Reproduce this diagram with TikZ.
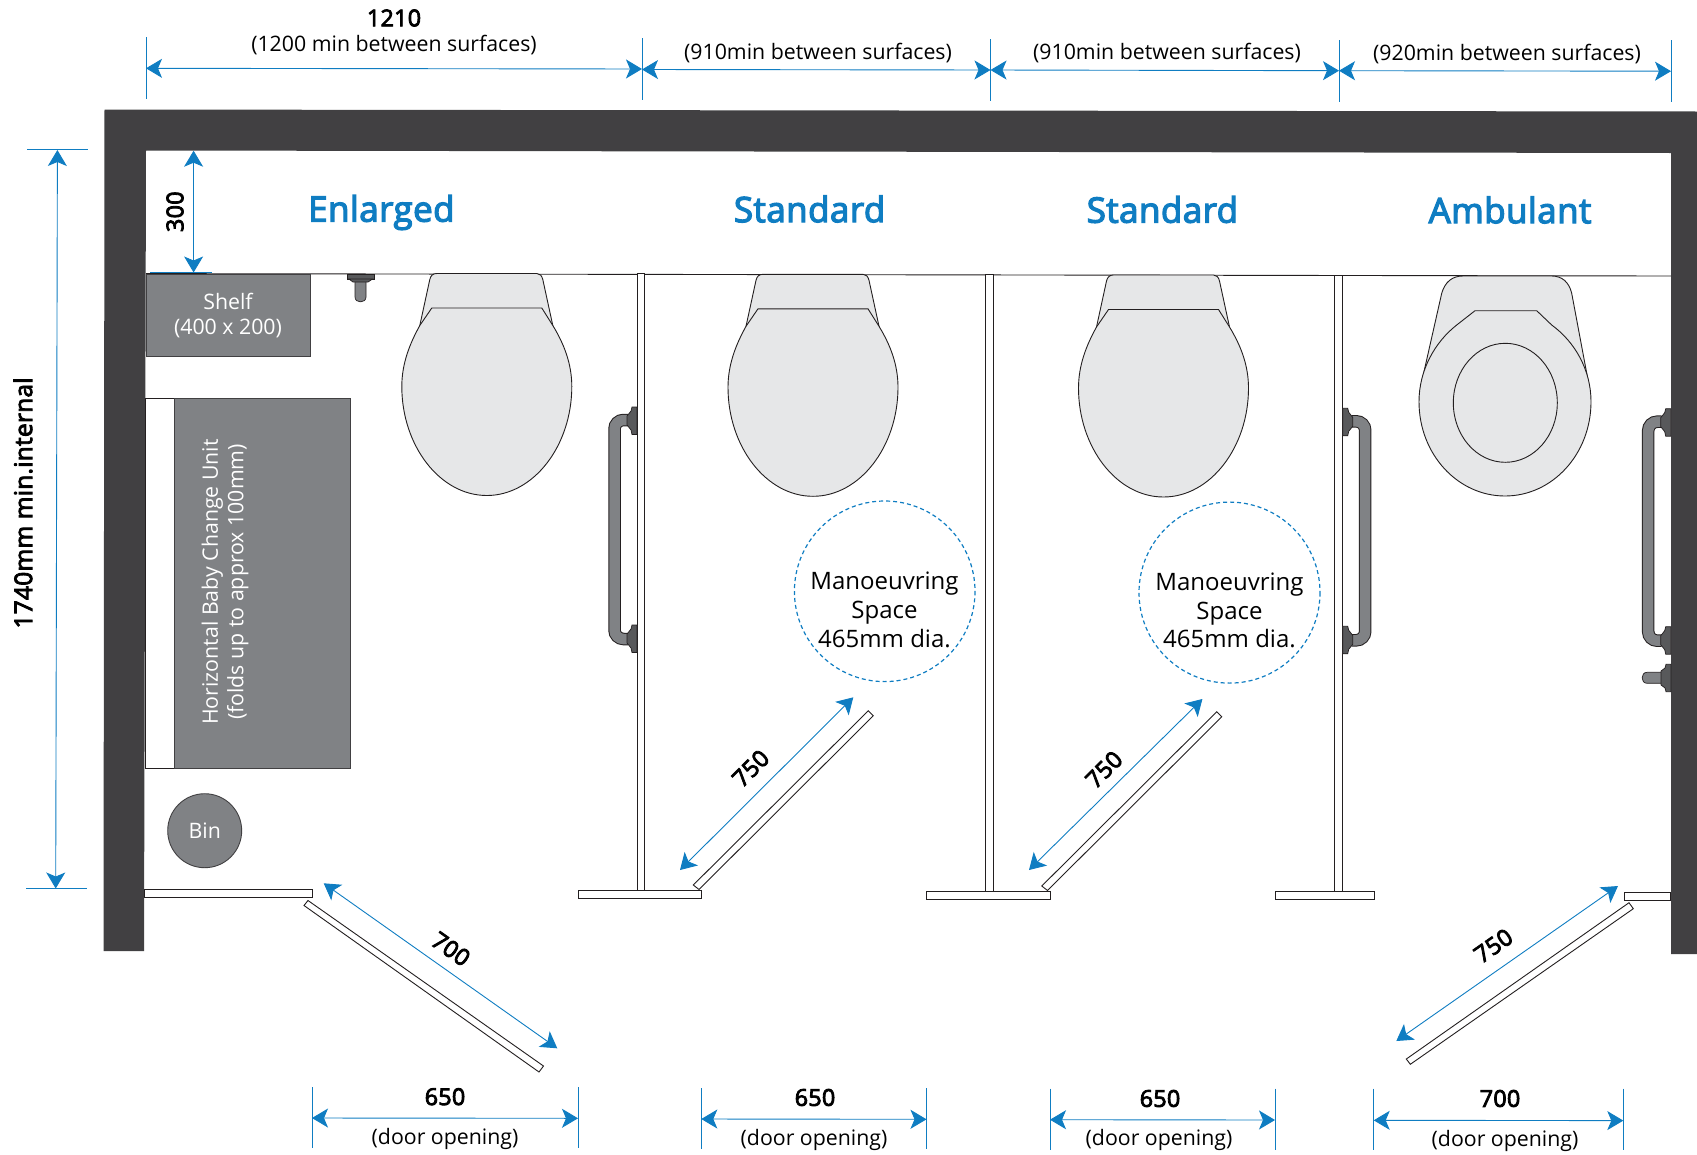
\documentclass[tikz,border=0pt]{standalone}
\usepackage{fontspec}
\setmainfont{Open Sans}
\newfontfamily\semi[FakeBold=3.5,LetterSpace=1.2]{Open Sans}
\usetikzlibrary{arrows.meta}
\definecolor{wallc}{HTML}{414042}
\definecolor{grayc}{HTML}{808285}
\definecolor{lightc}{HTML}{E6E7E8}
\definecolor{bluec}{HTML}{0F7DC2}
\definecolor{linec}{HTML}{231F20}
\definecolor{plate}{HTML}{58595B}
\tikzset{
  dimline/.style={bluec,line width=0.9pt,{Stealth[length=16pt,width=19pt,inset=4pt]}-{Stealth[length=16pt,width=19pt,inset=4pt]}},
  ticker/.style={bluec,line width=0.9pt},
  outl/.style={draw=linec,line width=0.9pt},
  panelbox/.style={outl,fill=white},
  greybox/.style={draw=wallc,line width=0.9pt,fill=grayc},
  panbox/.style={outl,fill=lightc},
  captxt/.style={font=\fontsize{21.3}{25.5}\selectfont,align=center,inner sep=0},
  numtxt/.style={font=\semi\fontsize{23.3}{26}\selectfont,inner sep=0},
  whitetxt/.style={captxt,text=white},
  titletxt/.style={font=\semi\fontsize{35}{40}\selectfont,text=bluec,inner sep=0},
  spacetxt/.style={inner sep=0,font=\fontsize{24}{28.7}\selectfont,align=center},
  mcirc/.style={bluec,line width=1.2pt,dash pattern=on 4pt off 3pt},
}
\newcommand\toilet[2]{\begin{scope}[shift={(#1,#2)}]
  \draw[panbox] (-67,52) -- (-57,6) .. controls (-56,2) and (-54,0) .. (-50,0) -- (50,0) .. controls (53,0) and (55,2) .. (56,6) -- (66,52) -- cycle;
  \draw[panbox] (-55,34.5) -- (55,34.5) -- (66,52) .. controls (77,70) and (85,90) .. (85,113)
    .. controls (85,172) and (47,222) .. (0,222) .. controls (-47,222) and (-85,172) .. (-85,113)
    .. controls (-85,90) and (-77,70) .. (-67,52) -- cycle;
\end{scope}}
\newcommand\grabbar[3]{\begin{scope}[shift={(#1,#3)},xscale=#2]
  \draw[linec,line width=12.5pt,rounded corners=9pt] (9,13) -- (22.5,13) -- (22.5,232) -- (9,232);
  \draw[grayc,line width=10.5pt,rounded corners=9pt] (9,13) -- (22.5,13) -- (22.5,232) -- (9,232);
  \draw[draw=linec,fill=plate,line width=.7pt] (0,0) -- (5,0) -- (6,4) -- (10,9) -- (10,18) -- (6,23) -- (5,27.5) -- (0,27.5) -- cycle;
  \draw[draw=linec,fill=plate,line width=.7pt] (0,218) -- (5,218) -- (6,222) -- (10,227) -- (10,236) -- (6,241) -- (5,245.5) -- (0,245.5) -- cycle;
\end{scope}}
\begin{document}
\begin{tikzpicture}[x=1pt,y=-1pt]
\useasboundingbox (0,0) rectangle (1697,1154);
% walls
\fill[wallc] (104.5,109.5) -- (1697,111.5) -- (1697,954) -- (1671,954) -- (1671,153) -- (146,150.5) -- (144,951) -- (103.5,951) -- cycle;
% blue foot of 300 dim
\coordinate (d300t) at (193.6,150.7);
\coordinate (d300b) at (193.6,272.5);
\draw[ticker,line width=.7pt] (150,272.4) -- (212,272.4);
\draw[dimline] (d300t) -- (d300b);
\node[numtxt,rotate=90] (n300) at (175,211.7) {300};
% rear line
\draw[linec,line width=0.9pt] (146,273.6) -- (1671,276);
% shelf
\draw[greybox] (146,274) rectangle (310.7,356.7);
\node[whitetxt] (shelf) at (228,315.5) {Shelf\\(400 x 200)};
% tap
\draw[draw=linec,fill=grayc,line width=.7pt] (355,279) -- (355,297) .. controls (355,303.5) and (366,303.5) .. (366,297) -- (366,279) -- cycle;
\draw[draw=linec,fill=plate,line width=.7pt] (347,274) rectangle (374.5,279) ;
\draw[draw=linec,fill=plate,line width=.7pt] (349,279) -- (372.5,279) -- (368,282) -- (353,282) -- cycle;
% baby change
\draw[panelbox] (145,398.3) rectangle (174,768.3);
\draw[greybox] (174,398.3) rectangle (350.4,768.3);
\node[whitetxt,rotate=90] (baby) at (225,582) {Horizontal Baby Change Unit\\(folds up to approx 100mm)};
% bin
\draw[greybox] (204.7,830.7) circle (37);
\node[whitetxt] (bin) at (204.7,830.7) {Bin};
% toilets
\toilet{486.8}{273.5}
\toilet{813}{274.3}
\toilet{1163.5}{275}
% ambulant toilet
\draw[panbox] (1421.7,381.7) -- (1441.7,293.3) .. controls (1445,282) and (1452,276) .. (1463,276) -- (1551.7,276) .. controls (1562,276) and (1569,282) .. (1571.7,293.3) -- (1588.3,381.7) -- cycle;
\draw[panbox] (1475,310.7) -- (1536.7,310.7) -- (1551.7,325) .. controls (1575,342) and (1591,370) .. (1591,401.7)
  .. controls (1591,454) and (1552.5,496) .. (1505,496) .. controls (1457.5,496) and (1419,454) .. (1419,401.7)
  .. controls (1419,370) and (1435,342) .. (1456.7,325) -- cycle;
\draw[panbox] (1505.3,402.8) ellipse (52 and 59.5);
% partitions
\draw[panelbox] (637.5,273.5) rectangle (644.8,890.7);
\draw[panelbox] (985.5,274.2) rectangle (993.3,891);
\draw[panelbox] (1334,275) rectangle (1342,891.7);
% feet
\draw[panelbox] (578,890.7) rectangle (701.7,898.3);
\draw[panelbox] (926.7,891) rectangle (1050.5,899);
\draw[panelbox] (1275,891.7) rectangle (1374.3,899.3);
\draw[panelbox] (144,889.3) rectangle (312.6,897.7);
\draw[panelbox] (1624.3,892.3) rectangle (1670.5,900.3);
% grab bars
\grabbar{637}{-1}{407}
\grabbar{1342.7}{1}{408.3}
\grabbar{1670.7}{-1}{408.7}
% small tap
\draw[draw=linec,fill=grayc,line width=.7pt] (1664,672.3) -- (1647,672.3) .. controls (1640.5,672.3) and (1640.5,683.3) .. (1647,683.3) -- (1664,683.3) -- cycle;
\draw[draw=linec,fill=plate,line width=.7pt] (1671,664.3) -- (1666,664.3) -- (1665,668) -- (1661,671) -- (1661,685) -- (1665,688) -- (1666,691.7) -- (1671,691.7) -- cycle;
% doors
\draw[panelbox] (304,905.5) -- (308,900.5) -- (543.5,1066) -- (539,1072) -- cycle;
\draw[panelbox] (693.3,885) -- (699,889.5) -- (873.3,715.7) -- (868.3,710.7) -- cycle;
\draw[panelbox] (1041.8,886) -- (1047.5,890.5) -- (1221.8,716.7) -- (1216.8,711.7) -- cycle;
\draw[panelbox] (1406.3,1059) -- (1410.3,1064.3) -- (1633.3,908.7) -- (1629,902.7) -- cycle;
% diagonal dims
\coordinate (a1) at (323.7,883.3); \coordinate (a2) at (557.3,1048.3);
\draw[dimline] (a1) -- (a2);
\node[numtxt,rotate=-35.2] (n700) at (451,949) {700};
\coordinate (b1) at (680,870); \coordinate (b2) at (853.3,697.3);
\draw[dimline] (b1) -- (b2);
\node[numtxt,rotate=45] (n750a) at (750.7,768.3) {750};
\coordinate (c1) at (1029,870); \coordinate (c2) at (1202.4,699);
\draw[dimline] (c1) -- (c2);
\node[numtxt,rotate=45] (n750b) at (1104,769.5) {750};
\coordinate (e1) at (1396.3,1041); \coordinate (e2) at (1618,886);
\draw[dimline] (e1) -- (e2);
\node[numtxt,rotate=35] (n750c) at (1493.3,945.7) {750};
% manoeuvring circles
\draw[mcirc] (884.7,591.3) circle (90.3);
\node[spacetxt] (ms1) at (884.5,610) {Manoeuvring\\Space\\465mm dia.};
\draw[mcirc] (1229.5,592.6) circle (90.5);
\node[spacetxt] (ms2) at (1229.5,610.5) {Manoeuvring\\Space\\465mm dia.};
% titles
\node[titletxt] (t1) at (381.4,212.5) {Enlarged};
\node[titletxt] (t2) at (809.6,209) {Standard};
\node[titletxt] (t3) at (1162.4,209.5) {Standard};
\node[titletxt] (t4) at (1510,210) {Ambulant};
% top dims
\draw[ticker] (146,37) -- (146,99);
\draw[ticker] (642,38) -- (642,99.5);
\draw[ticker] (990.5,39) -- (990.5,101);
\draw[ticker] (1339,40) -- (1339,101.5);
\draw[ticker] (1671,40) -- (1671,101.7);
\coordinate (p1) at (146,68.3); \coordinate (p2a) at (642,69);
\coordinate (p2) at (642,69.5); \coordinate (p3a) at (990.5,70);
\coordinate (p3) at (990.5,70); \coordinate (p4a) at (1339,70.7);
\coordinate (p4) at (1339,70.7); \coordinate (p5) at (1671,71.2);
\draw[dimline] (p1) -- (p2a);
\draw[dimline] (p2) -- (p3a);
\draw[dimline] (p3) -- (p4a);
\draw[dimline] (p4) -- (p5);
\node[numtxt] (w1) at (394,18) {1210};
\node[captxt] (s1) at (394,45.5) {(1200 min between surfaces)};
\node[captxt] (s2) at (818,52.7) {(910min between surfaces)};
\node[captxt] (s3) at (1167,53.2) {(910min between surfaces)};
\node[captxt] (s4) at (1507,53.7) {(920min between surfaces)};
% left dim
\draw[ticker] (27,149.5) -- (88,149.5);
\draw[ticker] (26,888.7) -- (87,888.7);
\coordinate (l1) at (57.4,150); \coordinate (l2) at (55.7,888.5);
\draw[dimline] (l1) -- (l2);
\node[numtxt,rotate=90,font=\semi\fontsize{24.4}{28}\selectfont] (lbl) at (23,503) {1740mm min.internal};
% bottom dims
\draw[ticker] (312,1087) -- (312,1148);
\draw[ticker] (578,1087) -- (578,1148);
\draw[ticker] (701.3,1088) -- (701.3,1149);
\draw[ticker] (926.5,1088) -- (926.5,1149);
\draw[ticker] (1050,1088.5) -- (1050,1149.5);
\draw[ticker] (1275,1088.5) -- (1275,1149.5);
\draw[ticker] (1373.7,1088.7) -- (1373.7,1150);
\draw[ticker] (1623.3,1088.7) -- (1623.3,1150);
\coordinate (g1) at (312,1118); \coordinate (g2) at (578,1118.3);
\coordinate (h1) at (701.3,1119); \coordinate (h2) at (926.5,1119.3);
\coordinate (i1) at (1050,1119.7); \coordinate (i2) at (1275,1120);
\coordinate (j1) at (1373.7,1120.3); \coordinate (j2) at (1623.3,1120.6);
\draw[dimline] (g1) -- (g2);
\draw[dimline] (h1) -- (h2);
\draw[dimline] (i1) -- (i2);
\draw[dimline] (j1) -- (j2);
\node[numtxt] (o1) at (445,1096.7) {650};
\node[captxt] (q1) at (445,1139) {(door opening)};
\node[numtxt] (o2) at (815,1097.5) {650};
\node[captxt] (q2) at (814,1139.5) {(door opening)};
\node[numtxt] (o3) at (1160,1098.5) {650};
\node[captxt] (q3) at (1159,1140) {(door opening)};
\node[numtxt] (o4) at (1500,1098.5) {700};
\node[captxt] (q4) at (1505,1141) {(door opening)};
\end{tikzpicture}
\end{document}
